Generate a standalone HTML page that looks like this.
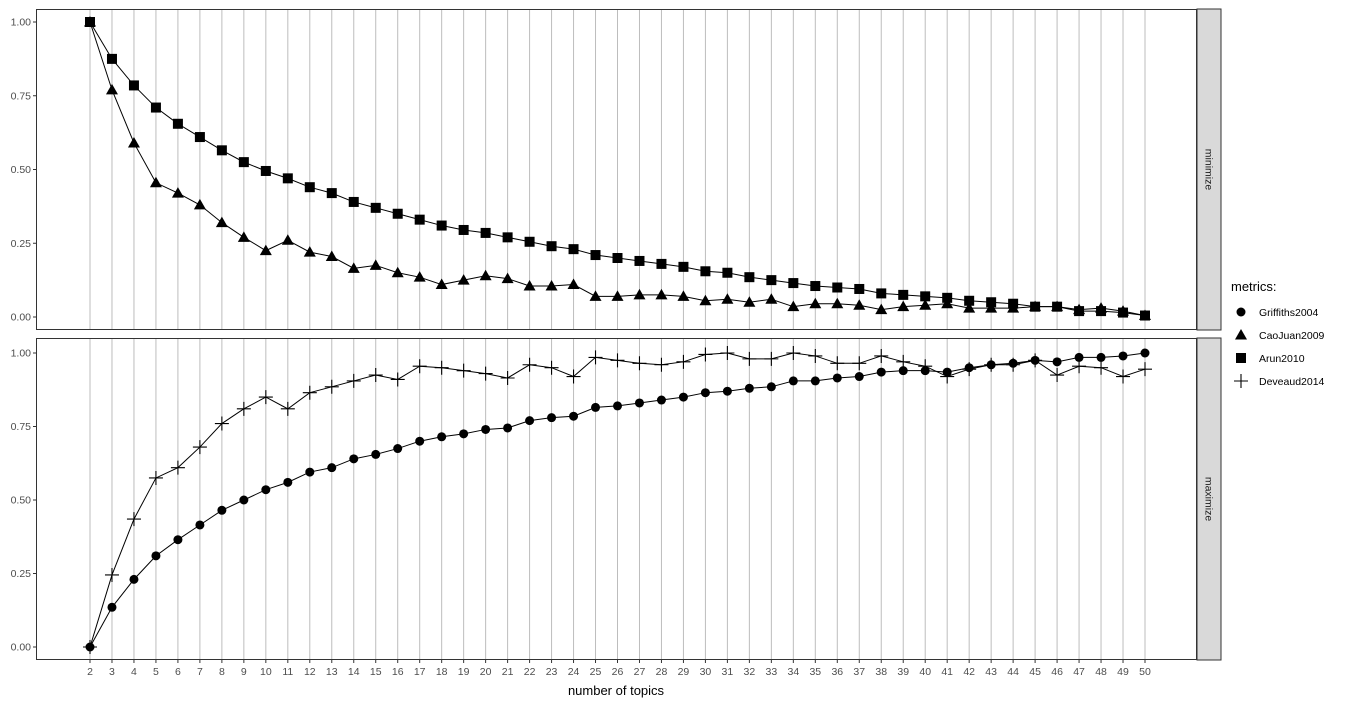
<!DOCTYPE html>
<html><head><meta charset="utf-8"><style>
html,body{margin:0;padding:0;background:#fff;}
svg{display:block;font-family:"Liberation Sans",Arial,sans-serif;}
</style></head><body>
<svg id="c" width="1366" height="706" xmlns="http://www.w3.org/2000/svg"></svg>
<script>
const topics=[];for(let k=2;k<=50;k++)topics.push(k);
const yTicks=[0,0.25,0.5,0.75,1];
const yTickLabels=["0.00","0.25","0.50","0.75","1.00"];
const arun=[1,.875,.785,.71,.655,.61,.565,.525,.495,.47,.44,.42,.39,.37,.35,.33,.31,.295,.285,.27,.255,.24,.23,.21,.2,.19,.18,.17,.155,.15,.135,.125,.115,.105,.1,.095,.08,.075,.07,.065,.055,.05,.045,.035,.035,.02,.02,.015,.005];
const caojuan=[1,.77,.59,.455,.42,.38,.32,.27,.225,.26,.22,.205,.165,.175,.15,.135,.11,.125,.14,.13,.105,.105,.11,.07,.07,.075,.075,.07,.055,.06,.05,.06,.035,.045,.045,.04,.025,.035,.04,.045,.03,.03,.03,.035,.035,.025,.03,.02,.005];
const griffiths=[0,.135,.23,.31,.365,.415,.465,.5,.535,.56,.595,.61,.64,.655,.675,.7,.715,.725,.74,.745,.77,.78,.785,.815,.82,.83,.84,.85,.865,.87,.88,.885,.905,.905,.915,.92,.935,.94,.94,.935,.95,.96,.965,.975,.97,.985,.985,.99,1];
const deveaud=[0,.245,.435,.575,.61,.68,.76,.81,.85,.81,.865,.885,.905,.925,.91,.955,.95,.94,.93,.915,.96,.95,.92,.985,.975,.965,.96,.97,.995,1,.98,.98,1,.99,.965,.965,.99,.97,.955,.92,.945,.96,.96,.975,.925,.955,.95,.92,.945];

const NS="http://www.w3.org/2000/svg";
const svg=document.getElementById('c');
function el(tag,attrs,parent){const e=document.createElementNS(NS,tag);for(const k in attrs)e.setAttribute(k,attrs[k]);(parent||svg).appendChild(e);return e;}
const L=36,R=1197;
const x=v=>90+(v-2)*(1145-90)/48;
const panels=[{top:9,bot:330,y1:22,y0:317,name:'minimize'},{top:338,bot:660,y1:353,y0:647,name:'maximize'}];
panels.forEach((p,pi)=>{
  const y=v=>p.y0+(p.y1-p.y0)*v;
  p.y=y;
  const g=el('g',{});
  
  
  el('rect',{x:L,y:p.top,width:R-L,height:p.bot-p.top,fill:'#fff'},g);
  topics.forEach(t=>{const l=el('line',{x1:x(t),x2:x(t),y1:p.top,y2:p.bot,stroke:'#bdbdbd','stroke-width':1},g);
    });
  yTicks.forEach((v,i)=>{
    el('line',{x1:L-3,x2:L,y1:y(v),y2:y(v),stroke:'#333'},g);
    const t=el('text',{x:L-5,y:y(v)+3.5,'text-anchor':'end','font-size':'10.5',fill:'#4d4d4d'},g);t.textContent=yTickLabels[i];
    
  });
  el('rect',{x:L+0.5,y:p.top+0.5,width:R-L-1,height:p.bot-p.top-1,fill:'none',stroke:'#333'},g);
  const s=el('rect',{x:R,y:p.top,width:24,height:p.bot-p.top,fill:'#d9d9d9',stroke:'#333','stroke-width':1},g);
  
  const cy=(p.top+p.bot)/2;
  const st=el('text',{x:R+12,y:cy,'text-anchor':'middle','font-size':'10.5',fill:'#1a1a1a',transform:`rotate(90 ${R+12} ${cy}) translate(0 3.5)`},g);st.textContent=p.name;
  
});
function marker(type,cx,cy,parent){
  if(type==='circle')return el('circle',{cx,cy,r:4.5,fill:'#000'},parent);
  if(type==='triangle')return el('polygon',{points:`${cx},${cy-6} ${cx-6},${cy+4.5} ${cx+6},${cy+4.5}`,fill:'#000'},parent);
  if(type==='square')return el('rect',{x:cx-5,y:cy-5,width:10,height:10,fill:'#000'},parent);
  return el('path',{d:`M${cx-7},${cy}H${cx+7}M${cx},${cy-7}V${cy+7}`,stroke:'#000','stroke-width':1.1},parent);
}
const series=[{d:caojuan,p:0,m:'triangle',n:'caojuan2009'},{d:arun,p:0,m:'square',n:'arun2010'},{d:griffiths,p:1,m:'circle',n:'griffiths2004'},{d:deveaud,p:1,m:'plus',n:'deveaud2014'}];
series.forEach(s=>{
  const y=panels[s.p].y;
  const g=el('g',{});
  
  const pl=el('polyline',{points:s.d.map((v,i)=>x(topics[i])+','+y(v)).join(' '),fill:'none',stroke:'#000','stroke-width':1},g);
  
  s.d.forEach((v,i)=>{const m=marker(s.m,x(topics[i]),y(v),g);
    });
});
topics.forEach(t=>{
  el('line',{x1:x(t),x2:x(t),y1:660,y2:663,stroke:'#333'});
  const tx=el('text',{x:x(t),y:675,'text-anchor':'middle','font-size':'10.5',fill:'#4d4d4d'});tx.textContent=t;
  
});
const xt=el('text',{x:616,y:695,'text-anchor':'middle','font-size':'13',fill:'#000'});xt.textContent='number of topics';

const lg=el('g',{});

const lt=el('text',{x:1231,y:291,'font-size':'13',fill:'#000'},lg);lt.textContent='metrics:';

[['circle','Griffiths2004'],['triangle','CaoJuan2009'],['square','Arun2010'],['plus','Deveaud2014']].forEach((e,i)=>{
  const cy=312+i*23;
  const eg=el('g',{},lg);
  
  marker(e[0],1241,cy,eg);
  const t=el('text',{x:1259,y:cy+4,'font-size':'10.5',fill:'#000'},eg);t.textContent=e[1];
});
</script>
</body></html>
